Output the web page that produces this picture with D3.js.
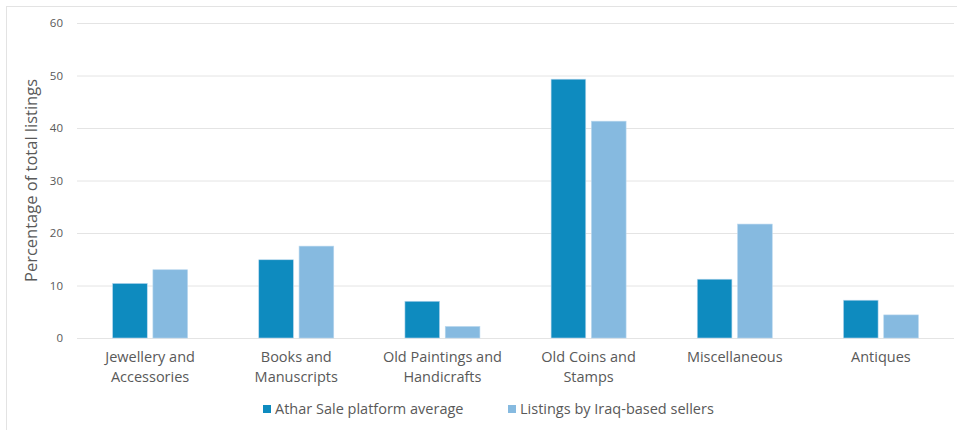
<!DOCTYPE html>
<html>
<head>
<meta charset="utf-8">
<script src="https://cdn.jsdelivr.net/npm/d3@7"></script>
<style>
  body { margin: 0; background: #fff; font-family: "Open Sans", "Noto Sans", sans-serif; }
</style>
</head>
<body>
<div id="chart"></div>
<script>
// Categories and series (percent of total listings)
const categories = [
    ["Jewellery and", "Accessories"],
    ["Books and", "Manuscripts"],
    ["Old Paintings and", "Handicrafts"],
    ["Old Coins and", "Stamps"],
    ["Miscellaneous"],
    ["Antiques"]
];
const seriesNames = ["Athar Sale platform average", "Listings by Iraq-based sellers"];
const platformAvg = [10.4, 14.9, 7.0, 49.3, 11.2, 7.2];
const iraqSellers = [13.0, 17.5, 2.2, 41.3, 21.7, 4.4];
const yTicks = [0, 10, 20, 30, 40, 50, 60];

const W = 957, H = 430;
const margin = { top: 23, right: 3, bottom: 92, left: 77 };

const svg = d3.select("#chart").append("svg")
    .attr("width", W)
    .attr("height", H);

// outer frame
svg.append("rect")
    .attr("x", 6.5).attr("y", 6.5)
    .attr("width", W - 5).attr("height", H)
    .attr("fill", "none")
    .attr("stroke", "#e3e3e3");

const x = d3.scaleBand()
    .domain(d3.range(categories.length))
    .range([margin.left, W - margin.right])
    .padding(0);

const x1 = d3.scaleBand()
    .domain([0, 1])
    .range([x.bandwidth() / 2 - 37.5, x.bandwidth() / 2 + 37.5])
    .paddingInner(0.14);

const y = d3.scaleLinear()
    .domain([0, 60])
    .range([H - margin.bottom, margin.top]);

// gridlines + y labels
const yAxis = svg.append("g")
    .attr("transform", `translate(${margin.left},0)`)
    .call(d3.axisLeft(y).tickValues(yTicks).tickSize(-(W - margin.left - margin.right)).tickPadding(14));
yAxis.select(".domain").remove();
yAxis.selectAll(".tick line").attr("stroke", "#e4e4e4").attr("stroke-width", 1);
yAxis.selectAll(".tick text")
    .attr("fill", "#595959")
    .attr("font-size", "11.5px")
    .attr("font-family", "Open Sans, sans-serif");

// y title
svg.append("text")
    .attr("transform", `translate(37,${(y(0) + y(60)) / 2}) rotate(-90)`)
    .attr("text-anchor", "middle")
    .attr("fill", "#595959")
    .attr("font-size", "16.5px")
    .text("Percentage of total listings");

const colors = ["#0e8bbf", "#86bae0"];
const seriesData = [platformAvg, iraqSellers];

// bars
seriesData.forEach((vals, s) => {
    svg.append("g")
        .selectAll("rect")
        .data(vals)
        .join("rect")
        .attr("x", (d, i) => x(i) + x1(s))
        .attr("y", d => y(d))
        .attr("width", x1.bandwidth())
        .attr("height", d => y(0) - y(d))
        .attr("fill", colors[s])
        .attr("stroke", "#b9d8ee")
        .attr("stroke-width", 0.6);
});

// x labels
const xl = svg.append("g")
    .selectAll("text")
    .data(categories)
    .join("text")
    .attr("x", (d, i) => x(i) + x.bandwidth() / 2)
    .attr("y", y(0) + 24)
    .attr("text-anchor", "middle")
    .attr("fill", "#595959")
    .attr("font-size", "14.5px");
xl.selectAll("tspan")
    .data(d => d)
    .join("tspan")
    .attr("x", function() { return this.parentNode.getAttribute("x"); })
    .attr("dy", (d, i) => i === 0 ? 0 : 20)
    .text(d => d);

// legend
const legendX = [263, 508];
const legend = svg.append("g")
    .selectAll("g")
    .data(seriesNames)
    .join("g")
    .attr("transform", (d, i) => `translate(${legendX[i]},409)`);
legend.append("rect")
    .attr("x", 0).attr("y", -4)
    .attr("width", 8).attr("height", 8)
    .attr("fill", (d, i) => colors[i]);
legend.append("text")
    .attr("x", 12)
    .attr("dy", "0.35em")
    .attr("fill", "#595959")
    .attr("font-size", "14.5px")
    .text(d => d);
</script>
</body>
</html>
